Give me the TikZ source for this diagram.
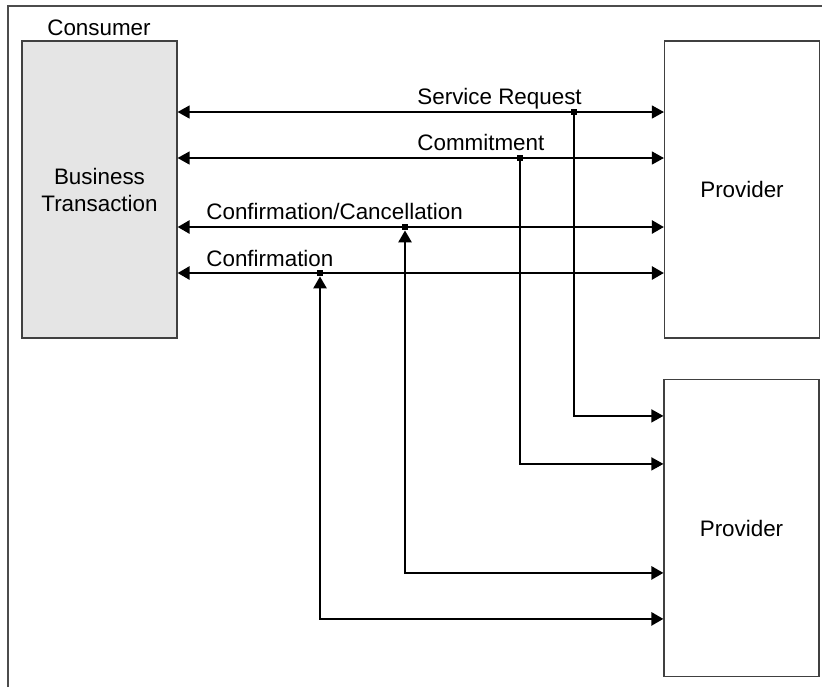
\documentclass[tikz,border=0pt]{standalone}
\usepackage{fontspec}
\setmainfont{Liberation Sans}
\usetikzlibrary{arrows.meta,positioning}

\begin{document}
\begin{tikzpicture}[
  x=0.5pt,y=-0.5pt,>={Triangle[length=6pt,width=6.5pt]},
  font=\fontsize{11.2}{13.5}\selectfont,
  party/.style={draw=black!75,line width=0.6pt,minimum width=77.5pt,
    minimum height=148.5pt,align=center,inner sep=0pt},
  tag/.style={anchor=base west,inner sep=0pt},
  tap/.style={fill=black,inner sep=0pt,minimum size=3pt},
  msg/.style={line width=0.65pt}, ack/.style={line width=1.3pt}]
\useasboundingbox (0,0) rectangle (822,687);
\draw[black!70,line width=0.7pt] (8,687) -- (8,6) -- (822,6);
\node[party,fill=black!10] (consumer) at (99.5,189.5) {Business\\Transaction};
\node (role) at (99,28) {Consumer};
\node[party] (upper) at (742,189.5) {Provider};
\node[party] (lower) at (741.5,528) {Provider};
% taps on the message lines
\node[tap] (req) at (574,112) {};
\node[tap] (com) at (520,158) {};
\node[tap] (cnc) at (405,227) {};
\node[tap] (cnf) at (320,273) {};
\node[tag] (reqlbl) at (417,104) {Service Request};
\node[tag] (comlbl) at (417,150) {Commitment};
\node[tag] (cnclbl) at (206,219) {Confirmation/Cancellation};
\node[tag] (cnflbl) at (206,266) {Confirmation};
\draw[msg,<->] (consumer.east |- req) -- (upper.west |- req);
\draw[msg,<->] (consumer.east |- com) -- (upper.west |- com);
\draw[ack,<->] (consumer.east |- cnc) -- (upper.west |- cnc);
\draw[ack,<->] (consumer.east |- cnf) -- (upper.west |- cnf);
% forwarded to the second provider
\draw[msg,->] (req) |- ([yshift=-18.5pt]lower.north west);
\draw[msg,->] (com) |- ([yshift=-42.5pt]lower.north west);
\draw[ack,<->] (cnc) |- ([yshift=-97pt]lower.north west);
\draw[ack,<->] (cnf) |- ([yshift=-120pt]lower.north west);
\end{tikzpicture}
\end{document}
